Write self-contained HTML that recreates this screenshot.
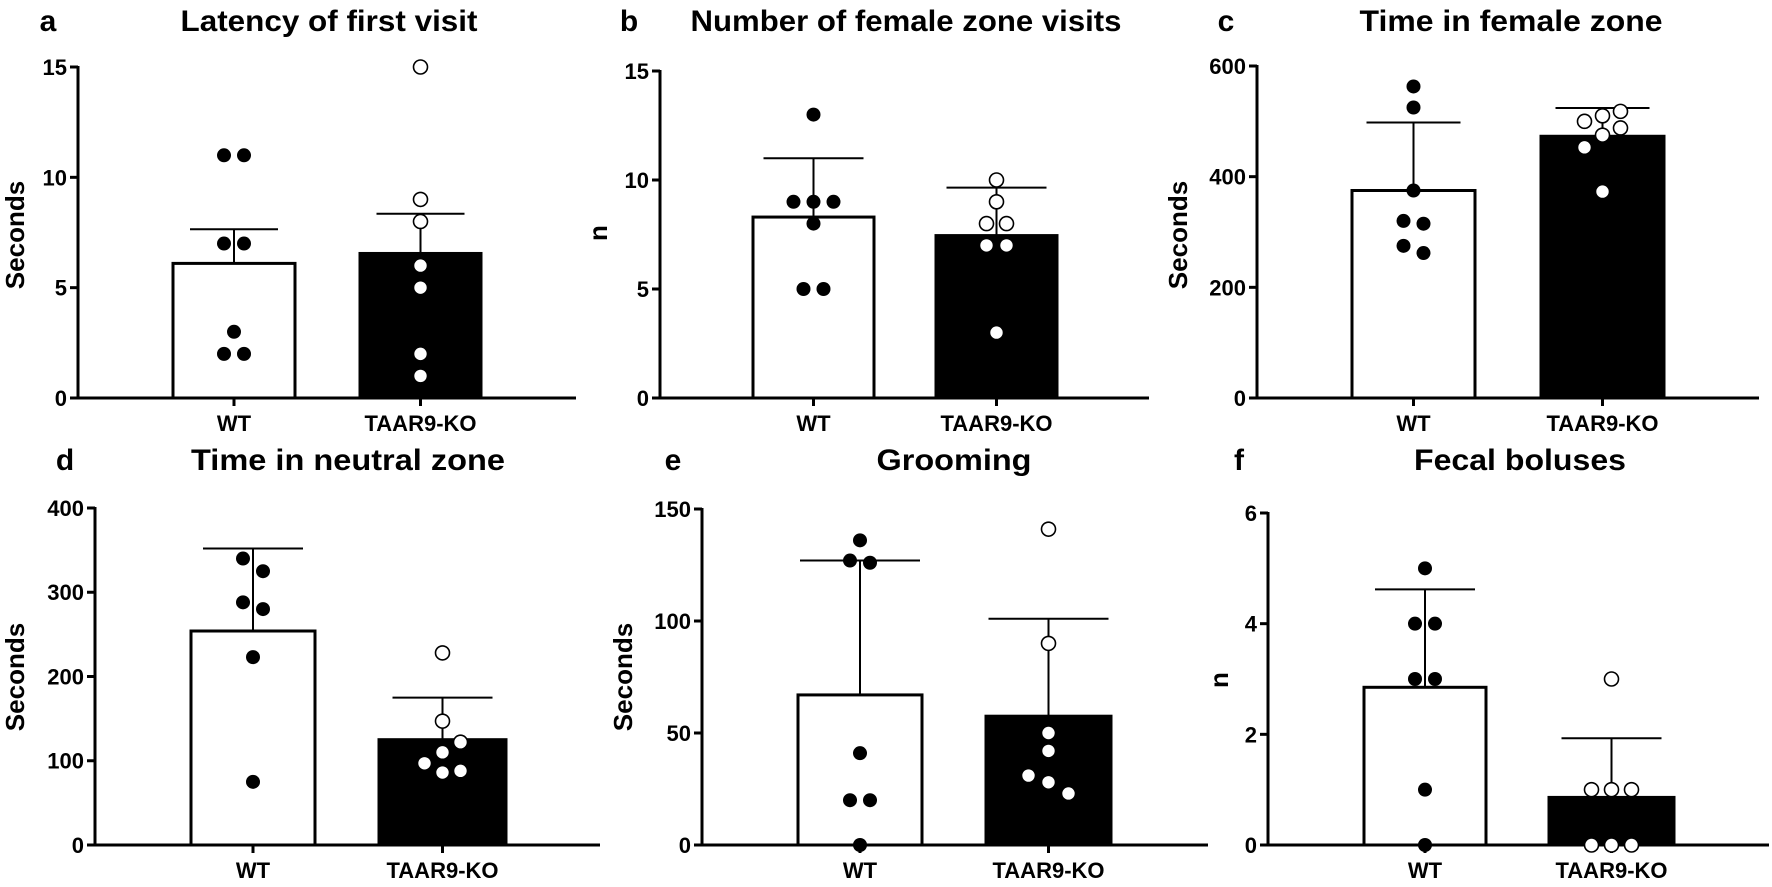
<!DOCTYPE html>
<html><head><meta charset="utf-8">
<style>
html,body{margin:0;padding:0;background:#fff;}
svg{display:block;font-family:"Liberation Sans",Arial,sans-serif;font-weight:bold;}
</style></head>
<body>
<svg id="fig" width="1772" height="887" viewBox="0 0 1772 887" xmlns="http://www.w3.org/2000/svg"></svg>
<script>
const categories = ["WT", "TAAR9-KO"];

const aTicks = [0, 5, 10, 15];
const aMeans = [6.1, 6.55];
const aErr = [7.65, 8.35];
const aWT = [11, 11, 7, 7, 3, 2, 2];
const aKO = [15, 9, 8, 6, 5, 2, 1];

const bTicks = [0, 5, 10, 15];
const bMeans = [8.3, 7.45];
const bErr = [11, 9.65];
const bWT = [13, 9, 9, 9, 8, 5, 5];
const bKO = [10, 9, 8, 8, 7, 7, 3];

const cTicks = [0, 200, 400, 600];
const cMeans = [375, 473];
const cErr = [498, 524];
const cWT = [563, 525, 375, 320, 315, 275, 262];
const cKO = [518, 510, 500, 488, 475, 453, 373];

const dTicks = [0, 100, 200, 300, 400];
const dMeans = [254, 125];
const dErr = [352, 175];
const dWT = [340, 325, 288, 280, 223, 75];
const dKO = [228, 147, 122, 110, 97, 88, 86];

const eTicks = [0, 50, 100, 150];
const eMeans = [67, 57.5];
const eErr = [127, 101];
const eWT = [136, 127, 126, 41, 20, 20, 0];
const eKO = [141, 90, 50, 42, 31, 28, 23];

const fTicks = [0, 2, 4, 6];
const fMeans = [2.85, 0.86];
const fErr = [4.62, 1.93];
const fWT = [5, 4, 4, 3, 3, 1, 0];
const fKO = [3, 1, 1, 1, 0, 0, 0];

const NS = "http://www.w3.org/2000/svg";
const svg = document.getElementById("fig");
function mk(tag, attrs, parent) {
  const el = document.createElementNS(NS, tag);
  for (const k in attrs) el.setAttribute(k, attrs[k]);
  (parent || svg).appendChild(el);
  return el;
}

const panels = [
  {id:"a", title:"Latency of first visit", yt:"Seconds", ticks:aTicks, means:aMeans, err:aErr, wt:aWT, ko:aKO,
   ax:78, xend:576, y0:398, ytop:67, bars:[[173,295],[360,481]], tx:329, tw:297, ty:31, lx:48, yl:15, ylc:235, cap:44},
  {id:"b", title:"Number of female zone visits", yt:"n", ticks:bTicks, means:bMeans, err:bErr, wt:bWT, ko:bKO,
   ax:660, xend:1149, y0:398, ytop:71, bars:[[753,874],[936,1057]], tx:906, tw:431, ty:31, lx:629, yl:598, ylc:233, cap:50},
  {id:"c", title:"Time in female zone", yt:"Seconds", ticks:cTicks, means:cMeans, err:cErr, wt:cWT, ko:cKO,
   ax:1257, xend:1759, y0:398, ytop:66, bars:[[1352,1475],[1541,1664]], tx:1511, tw:303, ty:31, lx:1226, yl:1178, ylc:235, cap:47},
  {id:"d", title:"Time in neutral zone", yt:"Seconds", ticks:dTicks, means:dMeans, err:dErr, wt:dWT, ko:dKO,
   ax:95, xend:600, y0:845, ytop:508, bars:[[191,315],[379,506]], tx:348, tw:314, ty:470, lx:65, yl:15, ylc:677, cap:50},
  {id:"e", title:"Grooming", yt:"Seconds", ticks:eTicks, means:eMeans, err:eErr, wt:eWT, ko:eKO,
   ax:702, xend:1208, y0:845, ytop:509, bars:[[798,922],[986,1111]], tx:954, tw:155, ty:470, lx:673, yl:623, ylc:677, cap:60},
  {id:"f", title:"Fecal boluses", yt:"n", ticks:fTicks, means:fMeans, err:fErr, wt:fWT, ko:fKO,
   ax:1268, xend:1769, y0:845, ytop:513, bars:[[1364,1486],[1549,1674]], tx:1520, tw:212, ty:470, lx:1239, yl:1219, ylc:680, cap:50}
];

panels.forEach(p => {
  const g = mk("g", {});
  
  
  const tmax = p.ticks[p.ticks.length - 1];
  const yS = v => p.y0 - (v / tmax) * (p.y0 - p.ytop);

  const lt = mk("text", {x:p.lx, y:p.ty, "font-size":30, "text-anchor":"middle"}, g);
  lt.textContent = p.id;
  
  

  const ti = mk("text", {x:p.tx, y:p.ty, "font-size":30, "text-anchor":"middle", textLength:p.tw, lengthAdjust:"spacingAndGlyphs"}, g);
  ti.textContent = p.title;
  
  

  const yl = mk("text", {x:p.yl, y:p.ylc, "font-size":26, "text-anchor":"middle", transform:`rotate(-90 ${p.yl} ${p.ylc})`, dy:"0.35em"}, g);
  yl.textContent = p.yt;
  
  

  p.means.forEach((m, i) => {
    const [x1, x2] = p.bars[i];
    const r = mk("rect", {x:x1, y:yS(m), width:x2 - x1, height:p.y0 - yS(m),
      fill: i === 0 ? "#fff" : "#000", stroke:"#000", "stroke-width":3}, g);
    
    
    const cx = (x1 + x2) / 2;
    const e1 = mk("line", {x1:cx, x2:cx, y1:yS(m), y2:yS(p.err[i]), stroke:"#000", "stroke-width":2}, g);
    
    
    const e2 = mk("line", {x1:cx - p.cap, x2:cx + p.cap, y1:yS(p.err[i]), y2:yS(p.err[i]), stroke:"#000", "stroke-width":2}, g);
    
    
  });

  const ya = mk("line", {x1:p.ax, x2:p.ax, y1:p.ytop - 1, y2:p.y0, stroke:"#000", "stroke-width":3}, g);
  
  
  const xa = mk("line", {x1:p.ax - 8, x2:p.xend, y1:p.y0, y2:p.y0, stroke:"#000", "stroke-width":3}, g);
  
  

  p.ticks.forEach(t => {
    const y = yS(t);
    const tk = mk("line", {x1:p.ax - 8, x2:p.ax, y1:y, y2:y, stroke:"#000", "stroke-width":3}, g);
    
    
    const tl = mk("text", {x:p.ax - 11, y:y, dy:"0.36em", "font-size":22, "text-anchor":"end"}, g);
    tl.textContent = t;
    
    
  });

  categories.forEach((c, i) => {
    const cx = (p.bars[i][0] + p.bars[i][1]) / 2;
    const tk = mk("line", {x1:cx, x2:cx, y1:p.y0, y2:p.y0 + 8, stroke:"#000", "stroke-width":3}, g);
    
    
    const tl = mk("text", {x:cx, y:p.y0 + 33, "font-size":22, "text-anchor":"middle"}, g);
    tl.textContent = c;
    
    
  });

  // points: cluster nearby points (in pixels) and spread them horizontally
  [p.wt, p.ko].forEach((arr, gi) => {
    const cx = (p.bars[gi][0] + p.bars[gi][1]) / 2;
    const sorted = arr.slice().sort((a, b) => b - a);
    const clusters = [];
    sorted.forEach(v => {
      const last = clusters[clusters.length - 1];
      if (last && Math.abs(yS(last[last.length - 1]) - yS(v)) < 13) last.push(v);
      else clusters.push([v]);
    });
    clusters.forEach(cl => {
      cl.forEach((v, k) => {
        let off;
        if (cl.length <= 3) off = (k - (cl.length - 1) / 2) * 20;
        else off = [1, 0, -1][k % 3] * 18;
        const pt = mk("circle", {cx:cx + off, cy:yS(v), r:7,
          fill: gi === 0 ? "#000" : "#fff", stroke:"#000", "stroke-width": gi === 0 ? 0 : 1.6}, g);
        
        
      });
    });
  });
});
</script>
</body></html>
